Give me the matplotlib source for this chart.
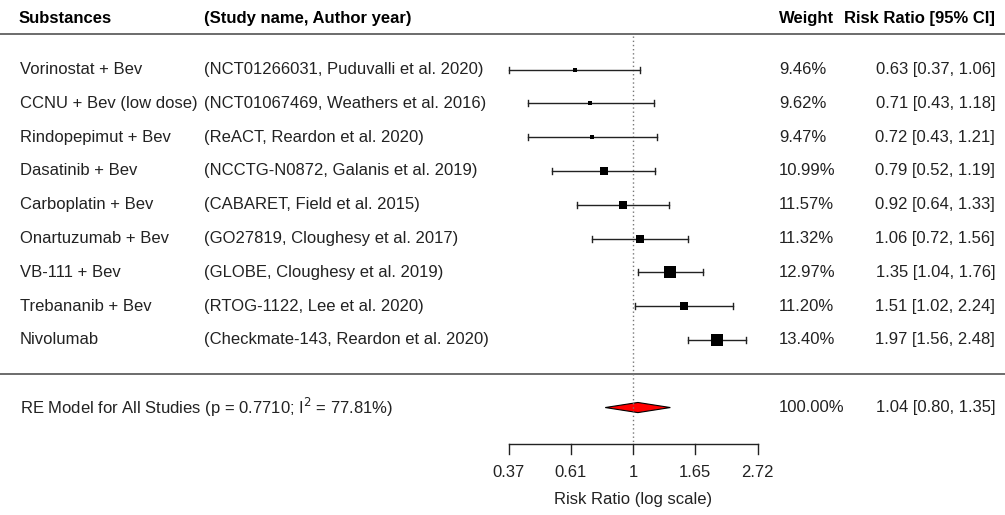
import numpy as np
import matplotlib
matplotlib.use('Agg')
import matplotlib.pyplot as plt
from matplotlib.transforms import blended_transform_factory

plt.rcParams['font.family'] = ['Liberation Sans', 'DejaVu Sans']

# Study data (top to bottom)
substances = ["Vorinostat + Bev", "CCNU + Bev (low dose)", "Rindopepimut + Bev",
              "Dasatinib + Bev", "Carboplatin + Bev", "Onartuzumab + Bev",
              "VB-111 + Bev", "Trebananib + Bev", "Nivolumab"]
studies = ["(NCT01266031, Puduvalli et al. 2020)", "(NCT01067469, Weathers et al. 2016)",
           "(ReACT, Reardon et al. 2020)", "(NCCTG-N0872, Galanis et al. 2019)",
           "(CABARET, Field et al. 2015)", "(GO27819, Cloughesy et al. 2017)",
           "(GLOBE, Cloughesy et al. 2019)", "(RTOG-1122, Lee et al. 2020)",
           "(Checkmate-143, Reardon et al. 2020)"]
weights = [9.46, 9.62, 9.47, 10.99, 11.57, 11.32, 12.97, 11.20, 13.40]
rr = [0.63, 0.71, 0.72, 0.79, 0.92, 1.06, 1.35, 1.51, 1.97]
ci_low = [0.37, 0.43, 0.43, 0.52, 0.64, 0.72, 1.04, 1.02, 1.56]
ci_high = [1.06, 1.18, 1.21, 1.19, 1.33, 1.56, 1.76, 2.24, 2.48]

# Pooled RE model
re_rr, re_low, re_high = 1.04, 0.80, 1.35
re_label = "RE Model for All Studies (p = 0.7710; I$^2$ = 77.81%)"

tick_vals = [-1, -0.5, 0, 0.5, 1]

fig = plt.figure(figsize=(10.05, 5.15), dpi=100)
ax = fig.add_axes([0, 0, 1, 1])
ax.set_xlim((0 - 633) / 124.5, (1005 - 633) / 124.5)
ax.set_ylim(-4.18, 11.06)
ax.axis('off')

tx = blended_transform_factory(ax.transAxes, ax.transData)
fs = 12
ink = '#222222'

n = len(rr)
rows = np.arange(n, 0, -1)

# header
ax.text(19 / 1005, 10.5, "Substances", transform=tx, fontsize=fs, fontweight='bold', va='center')
ax.text(204 / 1005, 10.5, "(Study name, Author year)", transform=tx, fontsize=fs, fontweight='bold', va='center')
ax.text(779 / 1005, 10.5, "Weight", transform=tx, fontsize=fs, fontweight='bold', va='center')
ax.text(995 / 1005, 10.5, "Risk Ratio [95% CI]", transform=tx, fontsize=fs, fontweight='bold',
        va='center', ha='right')
ax.axhline(10.04, color='#444444', lw=1.1)
ax.axhline(0, color='#444444', lw=1.1)

# reference line at RR = 1
ax.plot([0, 0], [10.0, -2.05], color='#777777', lw=1, ls=(0, (1, 2)))

w = np.array(weights)
sizes_px = 4 + (w - w.min()) / (w.max() - w.min()) * 8
cap = 0.09

for i in range(n):
    y = rows[i]
    lo, hi, est = np.log(ci_low[i]), np.log(ci_high[i]), np.log(rr[i])
    ax.plot([lo, hi], [y, y], color=ink, lw=1)
    ax.plot([lo, lo], [y - cap, y + cap], color=ink, lw=1)
    ax.plot([hi, hi], [y - cap, y + cap], color=ink, lw=1)
    ax.plot(est, y, marker='s', color='black', ms=sizes_px[i] * 0.72, mew=0, ls='none')
    ax.text(20 / 1005, y, substances[i], transform=tx, fontsize=fs, va='center', color=ink)
    ax.text(204 / 1005, y, studies[i], transform=tx, fontsize=fs, va='center', color=ink)
    ax.text(779 / 1005, y, f"{weights[i]:.2f}%", transform=tx, fontsize=fs, va='center', color=ink)
    ax.text(995 / 1005, y, f"{rr[i]:.2f} [{ci_low[i]:.2f}, {ci_high[i]:.2f}]", transform=tx,
            fontsize=fs, va='center', ha='right', color=ink)

# summary diamond
yd = -1
h = 0.15
dx = [np.log(re_low), np.log(re_rr), np.log(re_high), np.log(re_rr)]
dy = [yd, yd + h, yd, yd - h]
ax.fill(dx, dy, facecolor='red', edgecolor='black', lw=0.8)
ax.text(20 / 1005, yd, re_label, transform=tx, fontsize=fs, va='center', color=ink)
ax.text(779 / 1005, yd, "100.00%", transform=tx, fontsize=fs, va='center', color=ink)
ax.text(995 / 1005, yd, f"{re_rr:.2f} [{re_low:.2f}, {re_high:.2f}]", transform=tx,
        fontsize=fs, va='center', ha='right', color=ink)

# x axis (log scale)
ya = -2.08
ax.plot([tick_vals[0], tick_vals[-1]], [ya, ya], color=ink, lw=1)
for t in tick_vals:
    ax.plot([t, t], [ya, ya - 0.3], color=ink, lw=1)
    ax.text(t, ya - 0.85, f"{np.exp(t):.2f}".rstrip('0').rstrip('.'), fontsize=fs,
            ha='center', va='center', color=ink)
ax.text(0, -3.72, "Risk Ratio (log scale)", fontsize=fs, ha='center', va='center', color=ink)

fig.savefig('out.png', dpi=100)
